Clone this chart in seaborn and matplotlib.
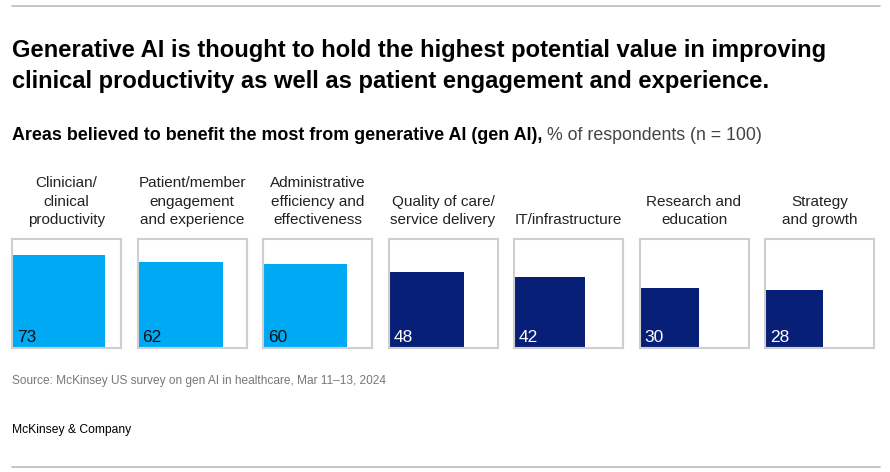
import numpy as np
import matplotlib
matplotlib.use("Agg")
import matplotlib.pyplot as plt
import seaborn as sns

# --- data ---
categories = [
    "Clinician/\nclinical\nproductivity",
    "Patient/member\nengagement\nand experience",
    "Administrative\nefficiency and\neffectiveness",
    "Quality of care/\nservice delivery",
    "IT/infrastructure",
    "Research and\neducation",
    "Strategy\nand growth",
]
values = [73, 62, 60, 48, 42, 30, 28]
highlight = [True, True, True, False, False, False, False]

CYAN = "#00A9F4"
NAVY = "#081F78"
BOX = "#CFCFCF"

sns.set_theme(style="white")
plt.rcParams["font.family"] = ["Liberation Sans", "DejaVu Sans"]

W, H = 890, 472
fig = plt.figure(figsize=(W / 100, H / 100), dpi=100)


def fit_width(txt, target_px):
    # shrink/grow a text so it spans target_px
    fig.canvas.draw()
    w = txt.get_window_extent().width
    txt.set_fontsize(txt.get_fontsize() * target_px / w)


# top / bottom rules
fig.add_artist(plt.Line2D([12 / W, 880 / W], [1 - 6 / H] * 2, color="#BBBBBB", lw=1.2))
fig.add_artist(plt.Line2D([12 / W, 880 / W], [1 - 467 / H] * 2, color="#BBBBBB", lw=1.2))

title = fig.text(12 / W, 1 - 66 / H,
                 "Generative AI is thought to hold the highest potential value in improving\n"
                 "clinical productivity as well as patient engagement and experience.",
                 fontsize=16, fontweight="bold", va="center", ha="left",
                 linespacing=1.4, color="black")
fit_width(title, 814)

sub1 = fig.text(12 / W, 1 - 136 / H,
                "Areas believed to benefit the most from generative AI (gen AI),",
                fontsize=12, fontweight="bold", va="center", ha="left", color="black")
fit_width(sub1, 528)
fig.canvas.draw()
bb = sub1.get_window_extent()
sub2 = fig.text((bb.x1 + 5) / W, 1 - 136 / H, "% of respondents (n = 100)",
                fontsize=sub1.get_fontsize(), va="center", ha="left", color="#444444")
fit_width(sub2, 762 - bb.x1 - 5)

box_w, box_h = 109, 109
left0, step = 12, 125.5
top = 239

for i, (cat, v, hl) in enumerate(zip(categories, values, highlight)):
    x0 = left0 + i * step
    ax = fig.add_axes([x0 / W, 1 - (top + box_h) / H, box_w / W, box_h / H])
    side = np.sqrt(v / 100)
    ax.bar(0, side, width=side, align="edge", color=CYAN if hl else NAVY, lw=0)
    ax.set_xlim(0, 1)
    ax.set_ylim(0, 1)
    ax.set_xticks([])
    ax.set_yticks([])
    for s in ax.spines.values():
        s.set_color(BOX)
        s.set_linewidth(1.5)
    ax.text(0.045, 0.03, str(v), transform=ax.transAxes, ha="left", va="bottom",
            fontsize=12.5, color="#111111" if hl else "white")
    fig.text((x0 + box_w / 2) / W, 1 - 227 / H, cat, ha="center", va="bottom",
             fontsize=11, color="#222222", linespacing=1.4)

fig.text(12 / W, 1 - 381 / H,
         "Source: McKinsey US survey on gen AI in healthcare, Mar 11\u201313, 2024",
         fontsize=8.6, color="#777777", ha="left", va="center")
fig.text(12 / W, 1 - 430 / H, "McKinsey & Company", fontsize=8.7, color="black",
         ha="left", va="center")

fig.savefig("out.png", dpi=100)
